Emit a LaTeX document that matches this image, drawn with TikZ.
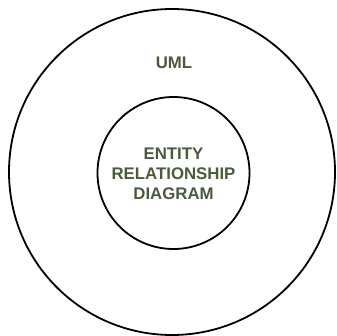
\documentclass[tikz,border=0pt]{standalone}
\usepackage{fontspec}
\setmainfont{Liberation Sans}
\definecolor{labelgreen}{HTML}{4B5A3B}
\begin{document}
\begin{tikzpicture}[x=1pt,y=-1pt,
  ring/.style={circle,draw=black,line width=1.8pt,inner sep=0pt,fill=none},
  lbl/.style={text=labelgreen,font=\fontsize{16.8}{20}\selectfont\bfseries,align=center,inner sep=0pt}]
\useasboundingbox (0,0) rectangle (336,336);
\node[ring,minimum size=326pt] (outer) at (172,172) {};
\node[ring,minimum size=152pt] (inner) at (173.5,173) {};
\node[lbl] (uml) at (174,63) {UML};
\node[lbl] (er) at (173.5,174) {ENTITY\\RELATIONSHIP\\DIAGRAM};
\end{tikzpicture}
\end{document}
